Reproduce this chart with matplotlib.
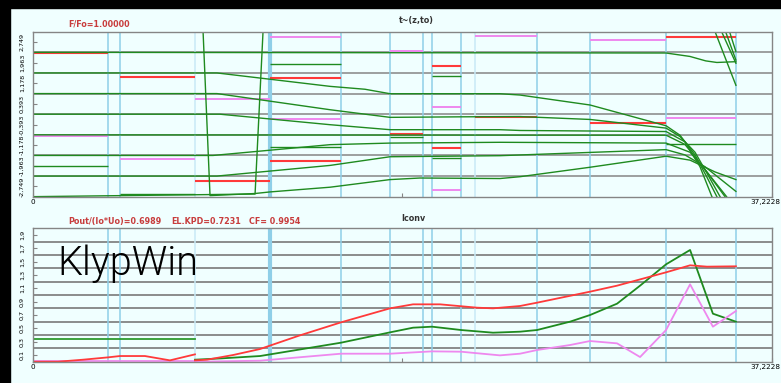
import numpy as np
import matplotlib.pyplot as plt
from matplotlib.patches import Rectangle
from matplotlib.ticker import FixedLocator, FuncFormatter
from matplotlib.transforms import ScaledTranslation

plt.rcParams['font.family'] = ['DejaVu Sans']

z_end = 37.2228

# section boundaries along z
z_sect = [3.78, 4.38, 8.16, 11.94, 15.52, 17.99, 19.67, 20.11, 21.57, 22.27, 25.40, 28.07, 31.90, 35.42]
z_sect_light = [8.16, 22.27]

# cavity voltage phases (start z, end z, phase)
cav_red_z0 = [0.0, 4.38, 8.16, 11.94, 11.94, 17.99, 20.11, 20.11, 22.27, 28.07, 31.90]
cav_red_z1 = [3.78, 8.16, 11.94, 15.52, 15.52, 19.67, 21.57, 21.57, 25.40, 31.90, 35.42]
cav_red_phi = [2.32, 1.41, -2.55, 1.38, -1.77, -0.74, 1.85, -1.30, -0.09, -0.32, 2.95]

cav_pink_z0 = [0.0, 4.38, 8.16, 11.94, 11.94, 17.99, 20.11, 20.11, 22.27, 28.07, 31.90]
cav_pink_z1 = [3.78, 8.16, 11.94, 15.52, 15.52, 19.67, 21.57, 21.57, 25.40, 31.90, 35.42]
cav_pink_phi = [-0.83, -1.72, 0.59, 2.94, -0.18, 2.42, 0.26, -2.87, 2.99, 2.83, -0.14]

cav_green_z0 = [0.0, 4.38, 11.94, 11.94, 17.99, 20.11, 20.11, 31.90]
cav_green_z1 = [3.78, 8.16, 15.52, 15.52, 19.67, 21.57, 21.57, 35.42]
cav_green_phi = [-1.97, -3.04, 1.90, -1.25, -0.87, 1.47, -1.67, -1.14]

# electron phase trajectories t~(z, to)
el1_z = [0, 8.57, 8.92, 11.19, 11.94, 14.97, 17.99, 19.50, 23.53, 24.54, 28.07, 31.90, 33.11, 34.37, 35.42]
el1_phi = [3.14, 3.14, -3.10, -3.02, -2.96, -2.78, -2.49, -2.43, -2.45, -2.38, -2.02, -1.60, -1.75, -2.20, -2.49]

el2_z = [0, 11.19, 11.59, 35.42]
el2_phi = [-3.14, -3.04, 3.13, 3.13]

el3_z = [0, 31.90, 33.10, 33.90, 34.46, 35.42]
el3_phi = [2.356, 2.33, 2.20, 2.03, 1.97, 2.00]

el4_z = [0, 9.27, 14.97, 16.73, 17.99, 23.53, 24.54, 28.07, 31.90, 32.60, 33.36, 33.96, 34.46]
el4_phi = [1.571, 1.571, 1.06, 0.95, 0.78, 0.78, 0.73, 0.35, -0.44, -0.80, -1.55, -2.40, -3.14]

el5_z = [0, 9.27, 14.97, 17.99, 21.57, 24.54, 28.07, 31.90, 32.60, 33.36, 34.00, 34.62]
el5_phi = [0.785, 0.785, 0.17, -0.12, -0.10, -0.09, -0.20, -0.53, -0.85, -1.45, -2.30, -3.14]

el6_z = [0, 9.42, 14.97, 17.99, 23.53, 24.54, 28.07, 31.90, 32.85, 33.61, 34.21]
el6_phi = [0.0, 0.0, -0.40, -0.59, -0.59, -0.62, -0.64, -0.66, -1.05, -2.00, -3.14]

el7_z = [0, 31.90, 32.85, 33.86, 34.87]
el7_phi = [-0.785, -0.80, -1.15, -2.10, -3.14]

el8_z = [0, 9.07, 14.97, 17.99, 23.53, 31.90, 33.11, 33.96, 34.95]
el8_phi = [-1.571, -1.571, -1.16, -1.10, -1.07, -1.10, -1.45, -2.20, -3.14]

el9_z = [0, 9.27, 14.97, 17.99, 23.53, 31.90, 32.85, 33.86, 35.42]
el9_phi = [-2.356, -2.356, -1.95, -1.62, -1.58, -1.35, -1.55, -2.00, -2.94]

# wrapped tails re-entering at +pi
wrap1_z, wrap1_phi = [34.37, 35.42], [3.14, 1.10]
wrap2_z, wrap2_phi = [34.70, 35.42], [3.14, 1.94]
wrap3_z, wrap3_phi = [34.90, 35.42], [3.14, 2.06]
wrap4_z, wrap4_phi = [35.10, 35.42], [3.14, 2.38]

# Iconv harmonics
red_a_z = [0, 1.26, 2.52, 3.78, 4.38, 5.64, 6.90, 8.16]
red_a = [0.0, 0.0, 0.03, 0.065, 0.085, 0.085, 0.02, 0.11]
red_b_z = [8.16, 8.77, 10.08, 11.44, 13.40, 15.52, 17.99, 19.15, 20.51, 22.37, 23.18, 24.54, 25.40, 28.07, 29.43, 31.90, 33.11, 33.96, 35.42]
red_b = [0.02, 0.03, 0.10, 0.19, 0.39, 0.59, 0.80, 0.86, 0.86, 0.81, 0.80, 0.835, 0.885, 1.05, 1.14, 1.34, 1.445, 1.425, 1.43]

green_a_z = [0, 8.16]
green_a = [0.345, 0.345]
green_b_z = [8.16, 9.50, 11.44, 15.52, 17.99, 19.15, 20.11, 21.57, 23.18, 24.54, 25.40, 27.06, 28.07, 29.43, 30.59, 31.90, 33.11, 34.26, 35.42]
green_b = [0.03, 0.05, 0.085, 0.285, 0.44, 0.51, 0.525, 0.475, 0.435, 0.45, 0.475, 0.60, 0.70, 0.87, 1.14, 1.46, 1.675, 0.72, 0.60]

pink_a_z = [0, 8.16]
pink_a = [0.01, 0.01]
pink_b_z = [8.16, 11.44, 15.52, 17.99, 20.11, 21.57, 22.27, 23.53, 24.54, 25.40, 27.06, 28.07, 29.43, 30.59, 31.90, 33.11, 34.26, 35.42]
pink_b = [0.0, 0.015, 0.12, 0.12, 0.155, 0.15, 0.13, 0.095, 0.12, 0.175, 0.25, 0.31, 0.275, 0.07, 0.475, 1.16, 0.525, 0.76]

top_ticks = [-2.749, -1.963, -1.178, -0.393, 0.393, 1.178, 1.963, 2.749]
top_grid = [-3*np.pi/4, -np.pi/2, -np.pi/4, 0, np.pi/4, np.pi/2, 3*np.pi/4]
bot_ticks = [0.1, 0.3, 0.5, 0.7, 0.9, 1.1, 1.3, 1.5, 1.7, 1.9]
bot_grid = [0.2, 0.4, 0.6, 0.8, 1.0, 1.2, 1.4, 1.6, 1.8]

BG = '#f0ffff'
GRID = '#858585'
SECT = '#8fcfe8'
SECT_LIGHT = '#c8eaf6'
RED = '#ff3a3a'
PINK = '#ee88ee'
GREEN = '#1f8a1f'
TXT_RED = '#c83c3c'

fig = plt.figure(figsize=(7.81, 3.83), dpi=100, facecolor=BG)

fig.patches.append(Rectangle((0, 0), 10/781, 1, transform=fig.transFigure, color='black', zorder=-1))
fig.patches.append(Rectangle((0, 1 - 8/383), 1, 8/383, transform=fig.transFigure, color='black', zorder=-1))

ax1 = fig.add_axes([33/781, (383-196.7)/383, 738.7/781, 165/383], facecolor=BG)
ax2 = fig.add_axes([33/781, (383-361.7)/383, 738.7/781, 133.4/383], facecolor=BG)


def comma(fmt):
    return FuncFormatter(lambda v, p: (fmt % v).replace('.', ','))


for ax in (ax1, ax2):
    ax.set_xlim(0, z_end)
    for s in ax.spines.values():
        s.set_color(GRID)
        s.set_linewidth(1.0)
        s.set_zorder(6)
    for z in z_sect:
        c = SECT_LIGHT if z in z_sect_light else SECT
        ax.axvline(z, color=c, lw=3.0 if z == 11.94 else 1.1, zorder=2)
    ax.set_xticks([0, z_end / 2, z_end])
    ax.set_xticklabels(['0', '', '37,2228'])
    ax.tick_params(axis='x', direction='in', length=3, color=GRID, labelsize=5.2, pad=2)
    ax.tick_params(axis='y', direction='in', length=3, color=GRID, labelsize=4.6, pad=6,
                   labelrotation=90)
    # keep the end label inside the figure
    end_lab = ax.get_xticklabels()[2]
    end_lab.set_ha('right')
    end_lab.set_transform(end_lab.get_transform() + ScaledTranslation(9/100, 0, fig.dpi_scale_trans))

# top panel
ax1.set_ylim(-np.pi, np.pi)
ax1.yaxis.set_major_locator(FixedLocator(top_ticks))
ax1.yaxis.set_major_formatter(comma('%.3f'))
for g in top_grid:
    ax1.axhline(g, color=GRID, lw=1.1, zorder=1)

ax1.hlines(cav_green_phi, cav_green_z0, cav_green_z1, color=GREEN, lw=1.0, zorder=3)
ax1.hlines(cav_pink_phi, cav_pink_z0, cav_pink_z1, color=PINK, lw=1.4, zorder=3)
ax1.hlines(cav_red_phi, cav_red_z0, cav_red_z1, color=RED, lw=1.5, zorder=3)

for zz, pp in [(el1_z, el1_phi), (el2_z, el2_phi), (el3_z, el3_phi), (el4_z, el4_phi),
               (el5_z, el5_phi), (el6_z, el6_phi), (el7_z, el7_phi), (el8_z, el8_phi),
               (el9_z, el9_phi), (wrap1_z, wrap1_phi), (wrap2_z, wrap2_phi),
               (wrap3_z, wrap3_phi), (wrap4_z, wrap4_phi)]:
    ax1.plot(zz, pp, color=GREEN, lw=1.0, zorder=4, clip_on=True)

# bottom panel
ax2.set_ylim(0, 2.0)
ax2.yaxis.set_major_locator(FixedLocator(bot_ticks))
ax2.yaxis.set_major_formatter(comma('%.1f'))
for g in bot_grid:
    ax2.axhline(g, color='#6e6e6e', lw=1.1, zorder=1)

ax2.plot(green_a_z, green_a, color='#2e9a2e', lw=1.3, zorder=4)
ax2.plot(green_b_z, green_b, color=GREEN, lw=1.3, zorder=4)
ax2.plot(pink_a_z, pink_a, color=PINK, lw=1.3, zorder=4)
ax2.plot(pink_b_z, pink_b, color=PINK, lw=1.3, zorder=4)
ax2.plot(red_a_z, red_a, color=RED, lw=1.3, zorder=5)
ax2.plot(red_b_z, red_b, color=RED, lw=1.3, zorder=5)

for ax in (ax1, ax2):
    for lab in ax.get_yticklabels():
        lab.set_va('center')

# captions
fig.text(68/781, 1 - 24/383, 'F/Fo=1.00000', color=TXT_RED, fontsize=5.8,
         fontweight='bold', va='center', ha='left')
fig.text(416/781, 1 - 20.7/383, 't~(z,to)', color='#333333', fontsize=5.8,
         fontweight='bold', va='center', ha='center')
fig.text(68/781, 1 - 221.7/383, 'Pout/(Io*Uo)=0.6989', color=TXT_RED, fontsize=5.8,
         fontweight='bold', va='center', ha='left')
fig.text(171/781, 1 - 221.7/383, 'EL.KPD=0.7231', color=TXT_RED, fontsize=5.8,
         fontweight='bold', va='center', ha='left')
fig.text(249/781, 1 - 221.7/383, 'CF= 0.9954', color=TXT_RED, fontsize=5.8,
         fontweight='bold', va='center', ha='left')
fig.text(413.5/781, 1 - 218.3/383, 'Iconv', color='#333333', fontsize=5.8,
         fontweight='bold', va='center', ha='center')
fig.text(57/781, 1 - 275/383, 'KlypWin', color='black', fontsize=28.5,
         family='Roboto', fontweight=300, va='baseline', ha='left', zorder=10)

fig.savefig('out.png', dpi=100, facecolor=BG)
